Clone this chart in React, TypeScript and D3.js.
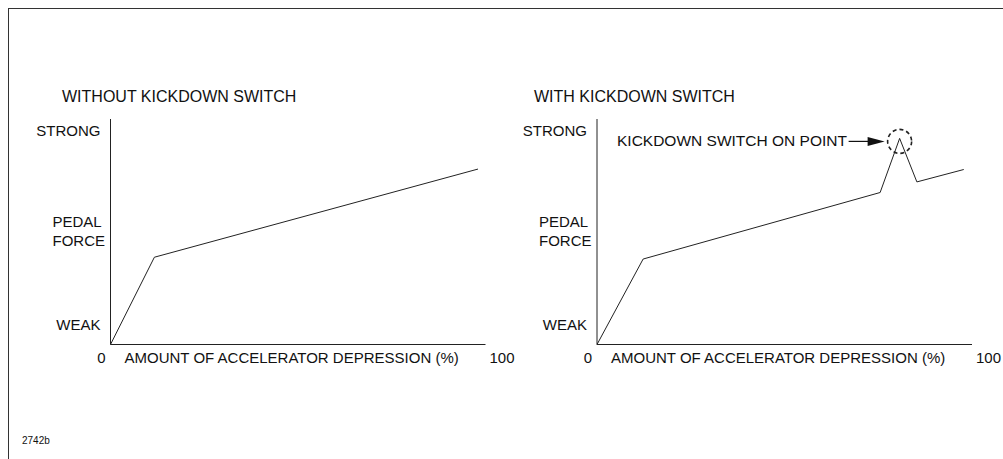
import React from "react"
import * as d3 from "d3"

// accelerator depression (%) vs pedal force (0 = weak, 100 = strong)
const X_TICKS = [0, 100]
const X_LABEL = "AMOUNT OF ACCELERATOR DEPRESSION (%)"
const Y_TOP_LABEL = "STRONG"
const Y_MID_LABEL = ["PEDAL", "FORCE"]
const Y_BOTTOM_LABEL = "WEAK"

const withoutPct = [0, 11.7, 98]
const withoutForce = [0, 38.7, 77.8]

const withPct = [0, 12.3, 75.5, 80.7, 85.3, 97.8]
const withForce = [0, 37.9, 67.4, 91.4, 72.1, 77.6]
const KICKDOWN_INDEX = 3
const KICKDOWN_LABEL = "KICKDOWN SWITCH ON POINT"

const FONT = "'Liberation Sans', Arial, sans-serif"

interface PanelProps {
  title: string
  titleX: number
  left: number
  pct: number[]
  force: number[]
  kickdown?: number
}

const Panel: React.FC<PanelProps> = ({ title, titleX, left, pct, force, kickdown }) => {
  const top = 119
  const bottom = 344.5
  const width = 375

  const x = d3.scaleLinear().domain([0, 100]).range([left, left + width])
  const y = d3.scaleLinear().domain([0, 100]).range([bottom, top])

  const pts = pct.map((p, i) => [p, force[i]] as [number, number])
  const line = d3
    .line<[number, number]>()
    .x((d) => x(d[0]))
    .y((d) => y(d[1]))

  const labelRight = left - 10
  const kx = kickdown !== undefined ? x(pct[kickdown]) : 0
  const ky = kickdown !== undefined ? y(force[kickdown]) + 3 : 0

  return (
    <g fontFamily={FONT} fill="#111">
      <text x={titleX} y={102} fontSize={16}>
        {title}
      </text>

      {/* axes */}
      <line x1={x(0)} x2={x(0)} y1={top} y2={bottom} stroke="#222" strokeWidth={1} />
      <line x1={x(0)} x2={x(100)} y1={bottom} y2={bottom} stroke="#222" strokeWidth={1} />

      <text x={labelRight} y={136} fontSize={15} textAnchor="end">
        {Y_TOP_LABEL}
      </text>
      {Y_MID_LABEL.map((t, i) => (
        <text key={t} x={left - 58} y={227 + i * 19} fontSize={15}>
          {t}
        </text>
      ))}
      <text x={labelRight} y={330} fontSize={15} textAnchor="end">
        {Y_BOTTOM_LABEL}
      </text>

      <text x={x(X_TICKS[0]) - 9} y={363} fontSize={15} textAnchor="middle">
        {X_TICKS[0]}
      </text>
      <text x={x(X_TICKS[1]) + 4} y={363} fontSize={15}>
        {X_TICKS[1]}
      </text>
      <text x={x(0) + 14} y={363} fontSize={15}>
        {X_LABEL}
      </text>

      <path d={line(pts) ?? ""} fill="none" stroke="#222" strokeWidth={1} />

      {kickdown !== undefined && (
        <g>
          <circle
            cx={kx}
            cy={ky}
            r={12}
            fill="none"
            stroke="#222"
            strokeWidth={1.6}
            strokeDasharray="4 3"
          />
          <text x={x(0) + 20} y={ky + 5} fontSize={15.5}>
            {KICKDOWN_LABEL}
          </text>
          <line x1={kx - 51} x2={kx - 30} y1={ky} y2={ky} stroke="#111" strokeWidth={1.2} />
          <path
            d={`M${kx - 32},${ky - 4.5}L${kx - 15},${ky}L${kx - 32},${ky + 4.5}Z`}
            fill="#111"
          />
        </g>
      )}
    </g>
  )
}

export default function App() {
  return (
    <svg
      width={1003}
      height={459}
      style={{ position: "absolute", left: 0, top: 0, background: "#fff" }}
    >
      <rect x={8.5} y={8.5} width={1010} height={470} fill="none" stroke="#333" strokeWidth={1} />
      <Panel
        title="WITHOUT KICKDOWN SWITCH"
        titleX={62}
        left={110.5}
        pct={withoutPct}
        force={withoutForce}
      />
      <Panel
        title="WITH KICKDOWN SWITCH"
        titleX={534}
        left={597}
        pct={withPct}
        force={withForce}
        kickdown={KICKDOWN_INDEX}
      />
      <text x={22} y={444} fontSize={10} fontFamily={FONT} fill="#111">
        2742b
      </text>
    </svg>
  )
}
